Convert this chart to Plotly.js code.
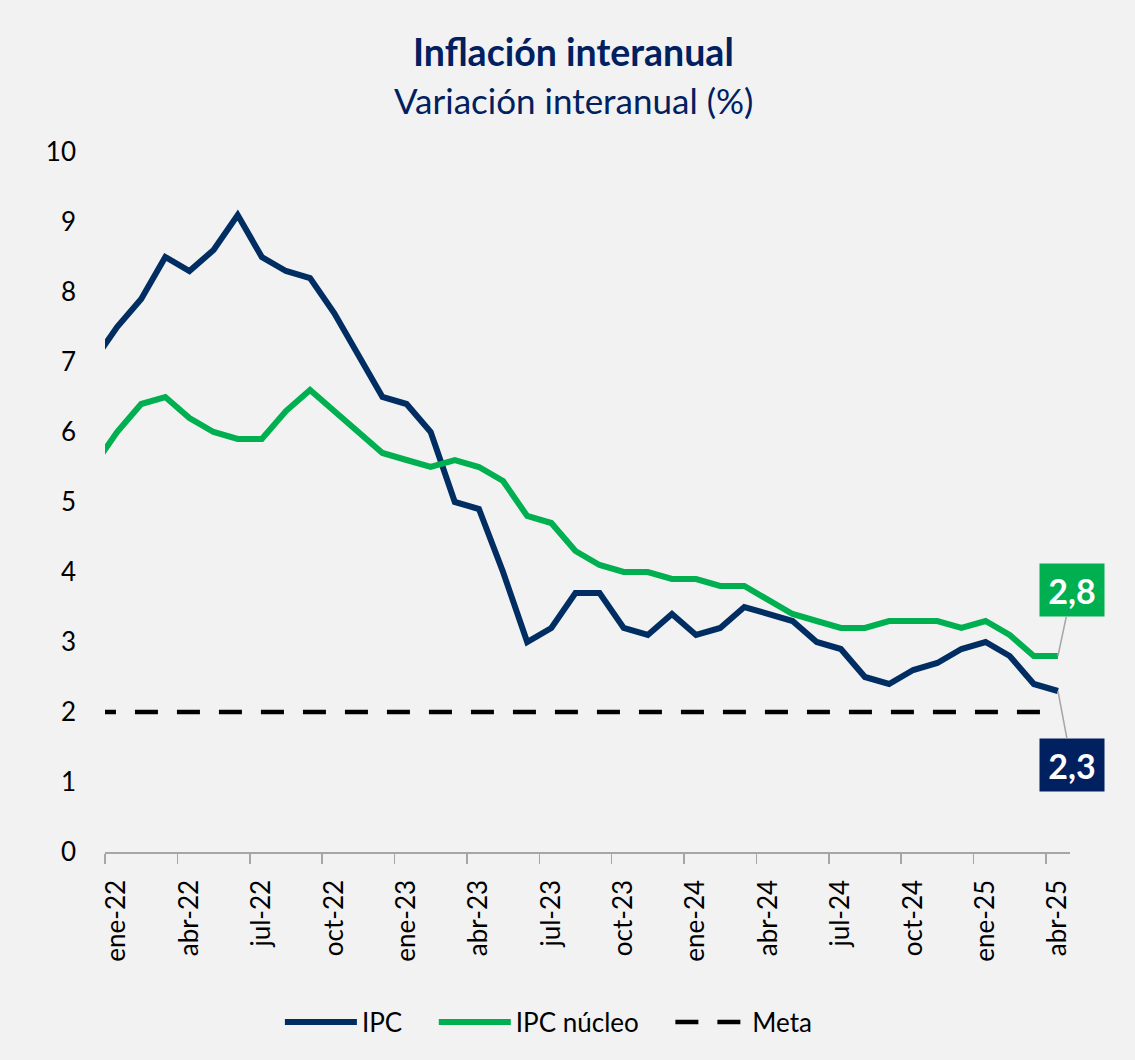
<!DOCTYPE html>
<html><head><meta charset="utf-8">
<script src="https://cdn.plot.ly/plotly-3.0.1.min.js"></script>
<style>html,body{margin:0;padding:0;background:#F2F2F2;}#chart{width:1135px;height:1060px;}</style>
</head><body><div id="chart"></div>
<script>
const months = ['dic-21',
 'ene-22','feb-22','mar-22','abr-22','may-22','jun-22','jul-22','ago-22','sep-22','oct-22','nov-22','dic-22',
 'ene-23','feb-23','mar-23','abr-23','may-23','jun-23','jul-23','ago-23','sep-23','oct-23','nov-23','dic-23',
 'ene-24','feb-24','mar-24','abr-24','may-24','jun-24','jul-24','ago-24','sep-24','oct-24','nov-24','dic-24',
 'ene-25','feb-25','mar-25','abr-25'];
const ipc = [7.0,
 7.5,7.9,8.5,8.3,8.6,9.1,8.5,8.3,8.2,7.7,7.1,6.5,
 6.4,6.0,5.0,4.9,4.0,3.0,3.2,3.7,3.7,3.2,3.1,3.4,
 3.1,3.2,3.5,3.4,3.3,3.0,2.9,2.5,2.4,2.6,2.7,2.9,
 3.0,2.8,2.4,2.3];
const ipcNucleo = [5.5,
 6.0,6.4,6.5,6.2,6.0,5.9,5.9,6.3,6.6,6.3,6.0,5.7,
 5.6,5.5,5.6,5.5,5.3,4.8,4.7,4.3,4.1,4.0,4.0,3.9,
 3.9,3.8,3.8,3.6,3.4,3.3,3.2,3.2,3.3,3.3,3.3,3.2,
 3.3,3.1,2.8,2.8];
const meta = months.map(() => 2);
const seriesNames = ['IPC', 'IPC núcleo', 'Meta'];
const tickLabels = ['ene-22','abr-22','jul-22','oct-22','ene-23','abr-23','jul-23','oct-23','ene-24','abr-24','jul-24','oct-24','ene-25','abr-25'];
const titleText = 'Inflación interanual';
const subtitleText = 'Variación interanual (%)';

const NAVY = '#002D62', GREEN = '#00B050', BOXNAVY = '#002060';
const xIdx = months.map((m, i) => i);
const tickPos = tickLabels.map(l => months.indexOf(l) - 0.5);
const last = months.length - 1;
const fmt = v => v.toFixed(1).replace('.', ',');
const pad = '\u00a0\u00a0\u00a0\u00a0';

const traces = [
  {x: xIdx, y: ipc, name: seriesNames[0] + pad, type: 'scatter', mode: 'lines',
   line: {color: NAVY, width: 6}},
  {x: xIdx, y: ipcNucleo, name: seriesNames[1] + pad, type: 'scatter', mode: 'lines',
   line: {color: GREEN, width: 6}},
  {x: xIdx, y: meta, name: seriesNames[2], type: 'scatter', mode: 'lines',
   line: {color: '#000000', width: 4.5, dash: '23px,19px'}}
];

const layout = {
  width: 1135, height: 1060,
  paper_bgcolor: '#F2F2F2', plot_bgcolor: '#F2F2F2',
  margin: {l: 105, r: 65, t: 152, b: 208},
  font: {family: 'Lato, "Open Sans", sans-serif', color: '#000000', size: 26},
  showlegend: true,
  legend: {orientation: 'h', x: 0.46, xanchor: 'center', y: -0.243, yanchor: 'middle',
           font: {size: 26, color: '#000'}, bgcolor: 'rgba(0,0,0,0)', itemwidth: 72, traceorder: 'normal'},
  xaxis: {
    type: 'linear', range: [0.5, last + 0.5],
    tickmode: 'array', tickvals: tickPos, ticktext: tickLabels,
    ticklabelshift: 12, tickangle: -90,
    ticks: 'outside', ticklen: 10, tickwidth: 1.5, tickcolor: '#A6A6A6',
    showline: true, linecolor: '#A6A6A6', linewidth: 1.5,
    showgrid: false, zeroline: false,
    tickfont: {size: 26, color: '#000'}, ticklabelstandoff: 6
  },
  yaxis: {
    range: [0, 10], tickmode: 'linear', tick0: 0, dtick: 1,
    showgrid: false, zeroline: false, showline: false, ticks: '',
    tickfont: {size: 26, color: '#000'}, ticklabelstandoff: 28
  },
  annotations: [
    {xref: 'paper', yref: 'paper', x: 0.485, y: 1.143, xanchor: 'center', yanchor: 'middle',
     text: '<b>' + titleText + '</b>', showarrow: false, font: {size: 37.5, color: BOXNAVY}},
    {xref: 'paper', yref: 'paper', x: 0.485, y: 1.075, xanchor: 'center', yanchor: 'middle',
     text: subtitleText, showarrow: false, font: {size: 35, color: BOXNAVY}},
    {x: last, y: ipcNucleo[last], xref: 'x', yref: 'y', text: '<b>' + fmt(ipcNucleo[last]) + '</b>',
     showarrow: true, arrowhead: 0, arrowwidth: 1.5, arrowcolor: '#A6A6A6', standoff: 0,
     ax: 14, ay: -66, bgcolor: GREEN, width: 58, height: 46, borderpad: 3,
     font: {size: 34, color: '#FFFFFF'}},
    {x: last, y: ipc[last], xref: 'x', yref: 'y', text: '<b>' + fmt(ipc[last]) + '</b>',
     showarrow: true, arrowhead: 0, arrowwidth: 1.5, arrowcolor: '#A6A6A6', standoff: 0,
     ax: 14, ay: 74, bgcolor: BOXNAVY, width: 58, height: 46, borderpad: 3,
     font: {size: 34, color: '#FFFFFF'}}
  ]
};

Plotly.newPlot('chart', traces, layout, {displayModeBar: false, staticPlot: true});
</script></body></html>
